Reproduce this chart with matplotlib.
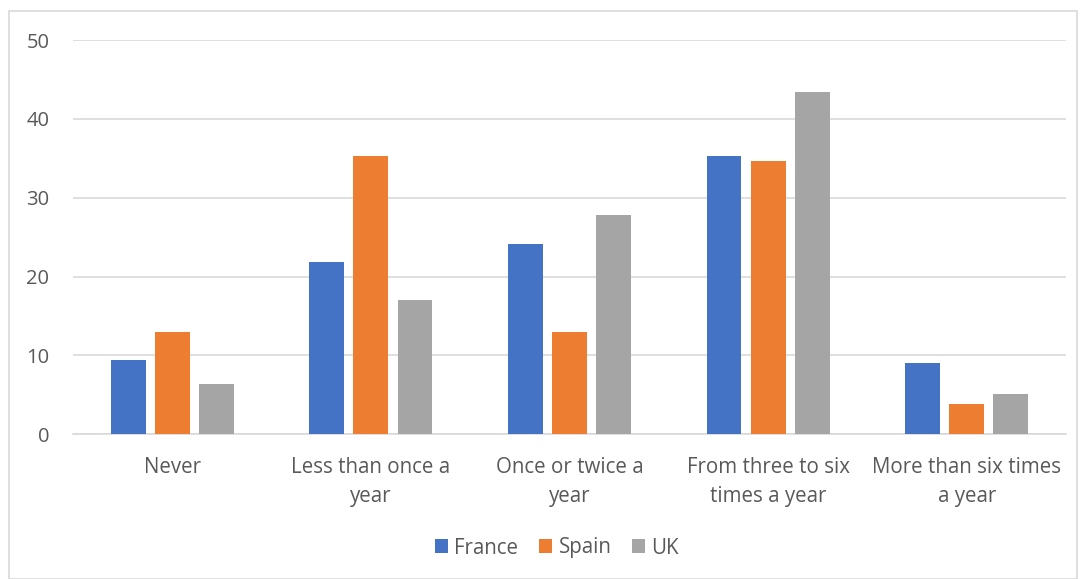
import matplotlib
matplotlib.use("Agg")
import matplotlib.pyplot as plt
import numpy as np
from matplotlib.patches import Rectangle

categories = ["Never", "Less than once a\nyear", "Once or twice a\nyear",
              "From three to six\ntimes a year", "More than six times\na year"]
series_names = ["France", "Spain", "UK"]
france = [9.4, 21.9, 24.1, 35.3, 9.0]
spain = [13.0, 35.3, 13.0, 34.6, 3.9]
uk = [6.4, 17.0, 27.8, 43.4, 5.1]
colors = ["#4472C4", "#ED7D31", "#A5A5A5"]
yticks = [0, 10, 20, 30, 40, 50]

plt.rcParams['font.family'] = ['Open Sans', 'DejaVu Sans']
fig = plt.figure(figsize=(10.85, 5.79), dpi=100)
ax = fig.add_axes([73/1085, 1-434.3/579, (1066-73)/1085, (434.3-40)/579])

x = np.arange(len(categories))
w = 0.176
off = 0.222
for i, (vals, name) in enumerate(zip([france, spain, uk], series_names)):
    ax.bar(x + (i-1)*off, vals, width=w, color=colors[i], label=name, zorder=3)

ax.set_xlim(-0.5, len(categories)-0.5)
ax.set_ylim(0, 50)
ax.set_yticks(yticks)
ax.yaxis.grid(True, color="#D9D9D9", linewidth=1.2, zorder=0)
ax.set_axisbelow(True)
for s in ["top", "right", "left"]:
    ax.spines[s].set_visible(False)
ax.spines["bottom"].set_color("#D9D9D9")
ax.spines["bottom"].set_linewidth(1.2)
ax.tick_params(axis='y', length=0, pad=17, labelsize=14.5, labelcolor="#595959")
ax.tick_params(axis='x', length=0, pad=16, labelsize=14.8, labelcolor="#595959")
ax.set_xticks(x)
ax.set_xticklabels(categories, linespacing=1.5)

leg = fig.legend(loc="center", bbox_to_anchor=(557/1085, 1-548/579), ncol=3,
                 frameon=False, fontsize=14.8, handlelength=0.65, handleheight=0.65,
                 handletextpad=0.3, columnspacing=1.0, labelcolor="#595959")

fig.patches.append(Rectangle((9/1085, 0), (1077-9)/1085, 1-11/579, transform=fig.transFigure,
                             fill=False, edgecolor="#D9D9D9", linewidth=1.2))
fig.savefig("out.png", dpi=100, facecolor="white")
